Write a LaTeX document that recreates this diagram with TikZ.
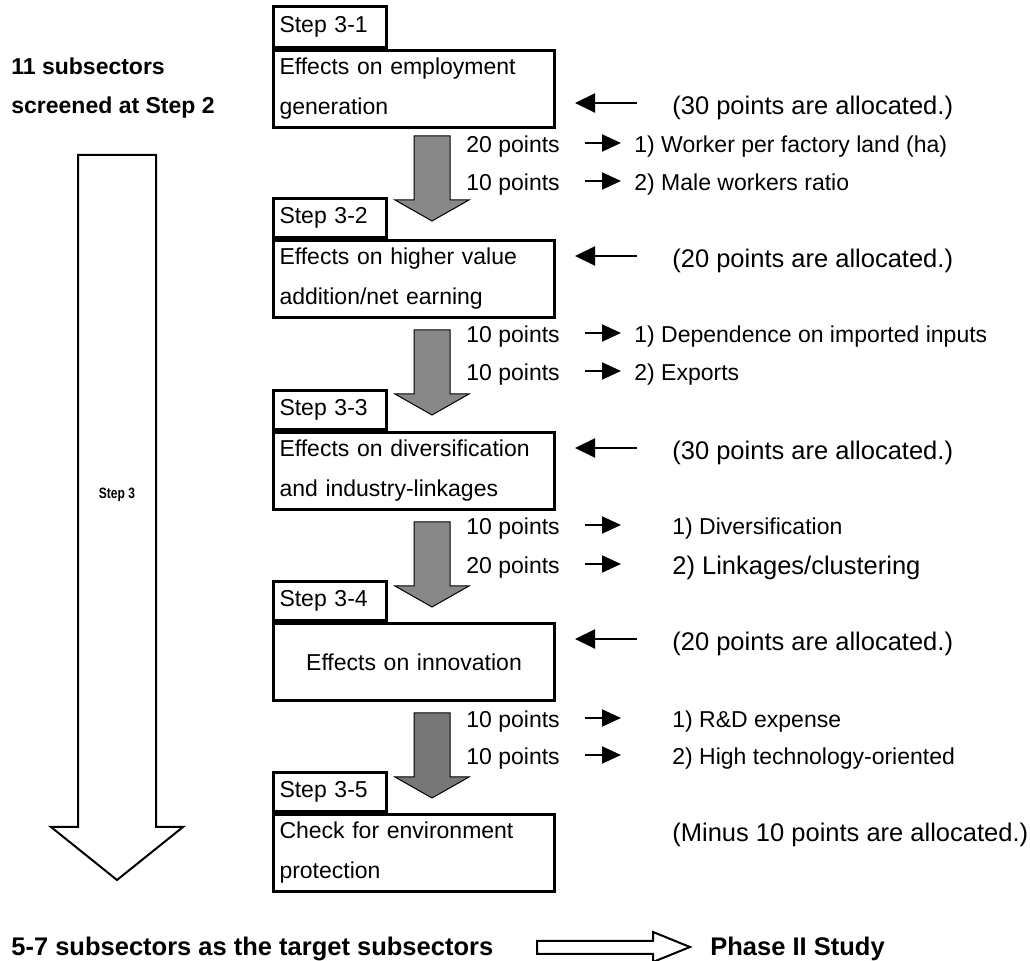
\documentclass[tikz,border=0pt]{standalone}
\usepackage{fontspec}
\setmainfont{Liberation Sans}
\usetikzlibrary{arrows.meta}
\definecolor{blockgray}{HTML}{888888}
\definecolor{blockdark}{HTML}{777777}
\begin{document}
\begin{tikzpicture}
		[x=0.5pt,y=-0.5pt,
		labelbox/.style={draw,line width=1.5pt,anchor=south west,minimum height=19.5pt,
text width=50.5pt,inner xsep=3pt,inner ysep=0pt,align=left,font=\fontsize{11.5}{14}\selectfont},
		mainbox/.style={draw,line width=1.5pt,anchor=north west,minimum height=38.5pt,
text width=134.5pt,inner xsep=3pt,inner ysep=0pt,align=left,font=\fontsize{11.5}{20}\selectfont},
		textstyle/.style={anchor=west,inner sep=0pt,font=\fontsize{11.5}{14}\selectfont},
		bigtext/.style={anchor=west,inner sep=0pt,font=\fontsize{12.75}{15}\selectfont},
		boldtext/.style={anchor=west,inner sep=0pt,align=left,font=\bfseries\fontsize{11.5}{19.5}\selectfont},
		blockarrow/.style={draw=black,line width=0.5pt},
		pointedge/.style={line width=1pt,-{Triangle[length=9.5pt,width=8.5pt]},
transform canvas={yshift=2pt}},
		backedge/.style={line width=1pt,-{Triangle[length=10pt,width=9.5pt]},
shorten <=17.5pt,shorten >=9.5pt,transform canvas={yshift=2.5pt}}]
		\useasboundingbox (0,0) rectangle (1030,961);
		% big outline arrow on the left
		\draw[line width=1pt,fill=white] (78,155) -- (156,155) -- (156,827) -- (183,827)
			-- (117,880) -- (51,827) -- (78,827) -- cycle;
		\node at (11,88) (in) [boldtext] {11 subsectors\\screened at Step 2};
		\node at (117,495) (s3) [font=\bfseries\fontsize{7.5}{9}\selectfont] {\scalebox{0.8}[1]{Step 3}};
		% gray arrows between the steps
		\foreach \ytop/\col in {136/blockgray,330/blockgray,522/blockgray,713/blockdark}
			\draw[blockarrow,fill=\col] (414,\ytop) -- (450,\ytop) -- (450,\ytop+64) -- (469,\ytop+64)
				-- (432,\ytop+85) -- (395,\ytop+64) -- (414,\ytop+64) -- cycle;
		% steps
		\node at (272,49) (b1) [mainbox] {Effects on employment\\generation};
		\node at (272,49) (l1) [labelbox,minimum height=20.5pt] {Step 3-1};
		\node at (272,239) (b2) [mainbox] {Effects on higher value\\addition/net earning};
		\node at (272,239) (l2) [labelbox] {Step 3-2};
		\node at (272,431) (b3) [mainbox] {Effects on diversification\\and industry-linkages};
		\node at (272,431) (l3) [labelbox] {Step 3-3};
		\node at (272,622) (b4) [mainbox,align=center] {Effects on innovation};
		\node at (272,622) (l4) [labelbox] {Step 3-4};
		\node at (272,813) (b5) [mainbox] {Check for environment\\protection};
		\node at (272,813) (l5) [labelbox] {Step 3-5};
		% points
		\node at (672,108) (a1) [bigtext] {(30 points are allocated.)};
		\node at (672,261) (a2) [bigtext] {(20 points are allocated.)};
		\node at (672,453) (a3) [bigtext] {(30 points are allocated.)};
		\node at (672,644) (a4) [bigtext] {(20 points are allocated.)};
		\node at (672,835) (a5) [bigtext] {(Minus 10 points are allocated.)};
		\draw[backedge] (a1.west) -- (a1.west -| b1.east);
		\draw[backedge] (a2.west) -- (a2.west -| b2.east);
		\draw[backedge] (a3.west) -- (a3.west -| b3.east);
		\draw[backedge] (a4.west) -- (a4.west -| b4.east);
		\node at (466,147) (p11) [textstyle] {20 points};
		\node at (466,185) (p12) [textstyle] {10 points};
		\node at (466,337) (p21) [textstyle] {10 points};
		\node at (466,375) (p22) [textstyle] {10 points};
		\node at (466,529) (p31) [textstyle] {10 points};
		\node at (466,568) (p32) [textstyle] {20 points};
		\node at (466,722) (p41) [textstyle] {10 points};
		\node at (466,759) (p42) [textstyle] {10 points};
		\node at (634,147) (i11) [textstyle] {1) Worker per factory land (ha)};
		\node at (634,185) (i12) [textstyle] {2) Male workers ratio};
		\node at (634,337) (i21) [textstyle] {1) Dependence on imported inputs};
		\node at (634,375) (i22) [textstyle] {2) Exports};
		\node at (672,529) (i31) [textstyle] {1) Diversification};
		\node at (672,568) (i32) [bigtext] {2) Linkages/clustering};
		\node at (672,722) (i41) [textstyle] {1) R\&D expense};
		\node at (672,759) (i42) [textstyle] {2) High technology-oriented};
		\draw[pointedge,shorten <=12.5pt,shorten >=6.5pt] (p11) -- (i11);
		\draw[pointedge,shorten <=12.5pt,shorten >=6.5pt] (p12) -- (i12);
		\draw[pointedge,shorten <=12.5pt,shorten >=6.5pt] (p21) -- (i21);
		\draw[pointedge,shorten <=12.5pt,shorten >=6.5pt] (p22) -- (i22);
		\draw[pointedge,shorten <=12.5pt,shorten >=25.5pt] (p31) -- (i31);
		\draw[pointedge,shorten <=12.5pt,shorten >=25.5pt] (p32) -- (i32);
		\draw[pointedge,shorten <=12.5pt,shorten >=25.5pt] (p41) -- (i41);
		\draw[pointedge,shorten <=12.5pt,shorten >=25.5pt] (p42) -- (i42);
		% result
		\node at (11,949) (out) [bigtext,font=\bfseries\fontsize{12.75}{15}\selectfont] {5-7 subsectors as the target subsectors};
		\node at (710,949) (ph2) [bigtext,font=\bfseries\fontsize{12.75}{15}\selectfont] {Phase II Study};
		\draw[line width=1pt] (537,941) -- (653,941) -- (653,932) -- (690,947) -- (653,962)
			-- (653,954) -- (537,954) -- cycle;
\end{tikzpicture}
\end{document}
